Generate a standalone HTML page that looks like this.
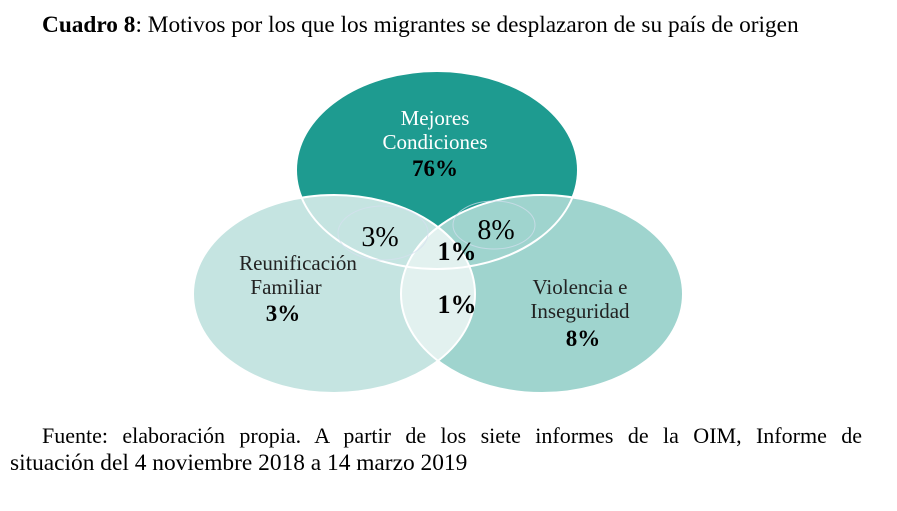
<!DOCTYPE html>
<html><head><meta charset="utf-8"><style>
body{margin:0;width:897px;height:511px;background:#fff;position:relative;overflow:hidden;font-family:"Liberation Serif",serif;}
.t{position:absolute;white-space:nowrap;color:#000;}
</style></head><body>
<div class="t" style="left:42px;top:12px;font-size:23.3px;"><b>Cuadro 8</b>: Motivos por los que los migrantes se desplazaron de su país de origen</div>
<svg width="897" height="511" style="position:absolute;left:0;top:0" font-family="Liberation Serif, serif">
<defs>
<clipPath id="cl"><ellipse cx="334" cy="294" rx="141" ry="99"/></clipPath>
</defs>
<ellipse cx="437" cy="170" rx="141" ry="99" fill="#1e9b90"/>
<ellipse cx="334" cy="294" rx="141" ry="99" fill="#c5e4e1"/>
<ellipse cx="542" cy="294" rx="141" ry="99" fill="#9fd4ce"/>
<ellipse cx="542" cy="294" rx="141" ry="99" fill="#e2f1ef" clip-path="url(#cl)"/>
<g fill="none" stroke="#fff" stroke-width="2">
<ellipse cx="437" cy="170" rx="141" ry="99"/>
<ellipse cx="334" cy="294" rx="141" ry="99"/>
<ellipse cx="542" cy="294" rx="141" ry="99"/>
</g>
<g fill="none" stroke="#d5dff0" stroke-width="1" opacity="0.7">
<ellipse cx="383" cy="233" rx="45" ry="27"/>
<ellipse cx="494" cy="225" rx="41" ry="24"/>
</g>
<g text-anchor="middle">
<text x="435" y="125" font-size="21" fill="#fff">Mejores</text>
<text x="435" y="149" font-size="21" fill="#fff">Condiciones</text>
<text x="435" y="176" font-size="23" font-weight="bold" fill="#000">76%</text>
<text x="380" y="246" font-size="28">3%</text>
<text x="496" y="239" font-size="28">8%</text>
<text x="457" y="260" font-size="26" font-weight="bold">1%</text>
<text x="457" y="313" font-size="26" font-weight="bold">1%</text>
<text x="298" y="270" font-size="21" fill="#222">Reunificación</text>
<text x="286" y="294" font-size="21" fill="#222">Familiar</text>
<text x="283" y="321" font-size="23" font-weight="bold">3%</text>
<text x="580" y="294" font-size="21" fill="#222">Violencia e</text>
<text x="580" y="318" font-size="21" fill="#222">Inseguridad</text>
<text x="583" y="346" font-size="23" font-weight="bold">8%</text>
</g>
</svg>
<div class="t" style="left:42px;top:423px;font-size:22px;width:820px;text-align:justify;text-align-last:justify;">Fuente: elaboración propia. A partir de los siete informes de la OIM, Informe de</div>
<div class="t" style="left:10px;top:450px;font-size:23.4px;">situación del 4 noviembre 2018 a 14 marzo 2019</div>
</body></html>
